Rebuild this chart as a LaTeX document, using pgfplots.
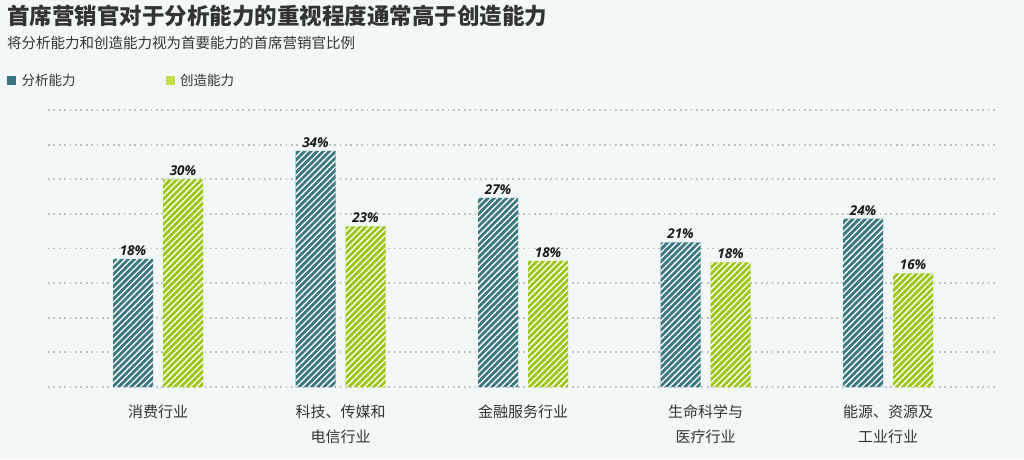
\documentclass[border=0pt]{standalone}
\usepackage{fontspec}
\usepackage{pgfplots}
\pgfplotsset{compat=1.18}
\usetikzlibrary{patterns.meta}
\newfontfamily\cjk{Noto Sans CJK SC}
\newfontfamily\numfont{Open Sans}
\definecolor{bgc}{HTML}{F1F8F7}
\definecolor{tealc}{HTML}{3C7880}
\definecolor{limec}{HTML}{9CC614}
\definecolor{tealL}{HTML}{3A7480}
\definecolor{limeL}{HTML}{C3DE45}
\definecolor{txt}{HTML}{333333}
\definecolor{gridc}{HTML}{BCC1C1}
\begin{document}
\begin{tikzpicture}
\path[use as bounding box] (0pt,0pt) rectangle (1024pt,459pt);
\fill[bgc] (0pt,0pt) rectangle (1024pt,459pt);
\node[anchor=north west, inner sep=0pt, font=\cjk\bfseries\fontsize{22.5}{25}\selectfont, text=txt] at (7pt,454pt) {首席营销官对于分析能力的重视程度通常高于创造能力};
\node[anchor=north west, inner sep=0pt, font=\cjk\fontsize{14.5}{16}\selectfont, text=txt] at (7pt,423pt) {将分析能力和创造能力视为首要能力的首席营销官比例};
\begin{axis}[
  at={(48pt,72pt)}, anchor=south west,
  scale only axis, width=949pt, height=277pt,
  xmin=-0.6027, xmax=4.597, ymin=0, ymax=40,
  ybar,
  axis line style={draw=none},
  major tick length=0pt,
  ytick={0,5,...,40}, yticklabels={},
  ymajorgrids,
  grid style={gridc, line width=1.8pt, dash pattern=on 1.8pt off 3.6pt, line cap=butt},
  xtick={0,1,2,3,4},
  xticklabels={消费行业, {科技、传媒和\\电信行业}, 金融服务行业, {生命科学与\\医疗行业}, {能源、资源及\\工业行业}},
  xticklabel style={align=center, font=\cjk\fontsize{15}{25}\selectfont, text=txt, yshift=-14pt},
  clip=false,
  point meta=explicit,
  nodes near coords={\pgfmathprintnumber{\pgfplotspointmeta}\%},
  every node near coord/.append style={font=\numfont\bfseries\itshape\fontsize{13.5}{14}\selectfont, text=black!90, /pgf/number format/assume math mode=true},
  legend columns=2,
  legend style={at={(axis description cs:-0.0432,1.108)}, anchor=west, draw=none, fill=none, inner sep=0pt,
    font=\cjk\fontsize{13.5}{15}\selectfont, text=txt,
    /tikz/every even column/.append style={column sep=88pt},
    /tikz/every odd column/.append style={column sep=4pt}},
]
\addlegendimage{legend image code/.code={\fill[tealL] (0pt,-4pt) rectangle (8pt,4pt);}}
\addlegendentry{分析能力}
\addlegendimage{legend image code/.code={\fill[limeL] (0pt,-4pt) rectangle (8pt,4pt);}}
\addlegendentry{创造能力}
\addplot[forget plot, draw=none, fill=tealc, bar width=40pt, bar shift=-25pt,
  postaction={pattern={Lines[angle=45,distance=4.4pt,line width=1.3pt]}, pattern color=white}]
  coordinates {(0,18.5)[18] (1,34.1)[34] (2,27.3)[27] (3,20.9)[21] (4,24.3)[24]};
\addplot[forget plot, draw=none, fill=limec, bar width=40pt, bar shift=25pt,
  postaction={pattern={Lines[angle=45,distance=4.4pt,line width=1.3pt]}, pattern color=white}]
  coordinates {(0,30.0)[30] (1,23.2)[23] (2,18.2)[18] (3,18.0)[18] (4,16.4)[16]};
\end{axis}
\end{tikzpicture}
\end{document}
